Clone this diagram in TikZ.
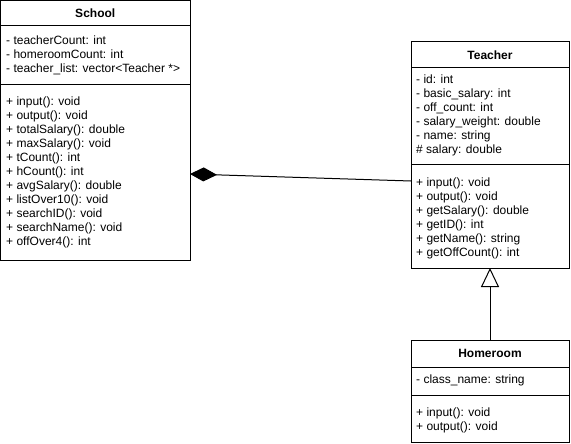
\documentclass[tikz,border=0pt]{standalone}
\usepackage{fontspec}
\setmainfont{Liberation Sans}
\usetikzlibrary{arrows.meta}
\begin{document}
\begin{tikzpicture}[x=1pt,y=-1pt,
  box/.style={draw, line width=1pt, rectangle, inner sep=0pt, outer sep=0pt},
  sep/.style={line width=1pt},
  txt/.style={anchor=base west, inner sep=0pt, font=\fontsize{12}{14}\selectfont},
  ttl/.style={anchor=center, inner sep=0pt, font=\fontsize{12}{14}\selectfont\bfseries, text height=8.6pt, text depth=0pt},
  comp/.style={line width=1pt, {Diamond[length=27pt,width=14pt,fill=black]}-},
  inh/.style={line width=1pt, -{Triangle[open,length=19pt,width=18pt,fill=white]}}
]
\useasboundingbox (0,0) rectangle (571,444);

% School
\node[box, minimum width=189.5pt, minimum height=259.5pt] (school) at (95.25,130.25) {};
\draw[sep] (0.5,26) -- (190,26);
\draw[sep] (0.5,85) -- (190,85);
\node[ttl] (schoolT) at (95.25,13.25) {School};
\node[txt] (sa1) at (6,44.3) {- teacherCount: int};
\node[txt] (sa2) at (6,58.3) {- homeroomCount: int};
\node[txt] (sa3) at (6,72.3) {- teacher\_list: vector<Teacher *>};
\node[txt] (sm1) at (6,105.3) {+ input(): void};
\node[txt] (sm2) at (6,119.3) {+ output(): void};
\node[txt] (sm3) at (6,133.3) {+ totalSalary(): double};
\node[txt] (sm4) at (6,147.3) {+ maxSalary(): void};
\node[txt] (sm5) at (6,161.3) {+ tCount(): int};
\node[txt] (sm6) at (6,175.3) {+ hCount(): int};
\node[txt] (sm7) at (6,189.3) {+ avgSalary(): double};
\node[txt] (sm8) at (6,203.3) {+ listOver10(): void};
\node[txt] (sm9) at (6,217.3) {+ searchID(): void};
\node[txt] (sm10) at (6,231.3) {+ searchName(): void};
\node[txt] (sm11) at (6,245.3) {+ offOver4(): int};

% Teacher
\node[box, minimum width=158pt, minimum height=226.5pt] (teacher) at (490,154.75) {};
\draw[sep] (411,68) -- (569,68);
\draw[sep] (411,164) -- (569,164);
\node[ttl] (teacherT) at (490,54.75) {Teacher};
\node[txt] (ta1) at (416,83.3) {- id: int};
\node[txt] (ta2) at (416,97.3) {- basic\_salary: int};
\node[txt] (ta3) at (416,111.3) {- off\_count: int};
\node[txt] (ta4) at (416,125.3) {- salary\_weight: double};
\node[txt] (ta5) at (416,139.3) {- name: string};
\node[txt] (ta6) at (416,153.3) {\# salary: double};
\node[txt] (tm1) at (416,186.3) {+ input(): void};
\node[txt] (tm2) at (416,200.3) {+ output(): void};
\node[txt] (tm3) at (416,214.3) {+ getSalary(): double};
\node[txt] (tm4) at (416,228.3) {+ getID(): int};
\node[txt] (tm5) at (416,242.3) {+ getName(): string};
\node[txt] (tm6) at (416,256.3) {+ getOffCount(): int};

% Homeroom
\node[box, minimum width=158pt, minimum height=102pt] (homeroom) at (490,391) {};
\draw[sep] (411,367) -- (569,367);
\draw[sep] (411,395) -- (569,395);
\node[ttl] (homeroomT) at (490,353.5) {Homeroom};
\node[txt] (ha1) at (416,383.3) {- class\_name: string};
\node[txt] (hm1) at (416,416.3) {+ input(): void};
\node[txt] (hm2) at (416,430.3) {+ output(): void};

% Connectors
\draw[comp] ([yshift=-43.75pt]school.east) -- ([yshift=-26.25pt]teacher.west);
\draw[inh] (homeroom.north) -- (teacher.south);
\end{tikzpicture}
\end{document}
